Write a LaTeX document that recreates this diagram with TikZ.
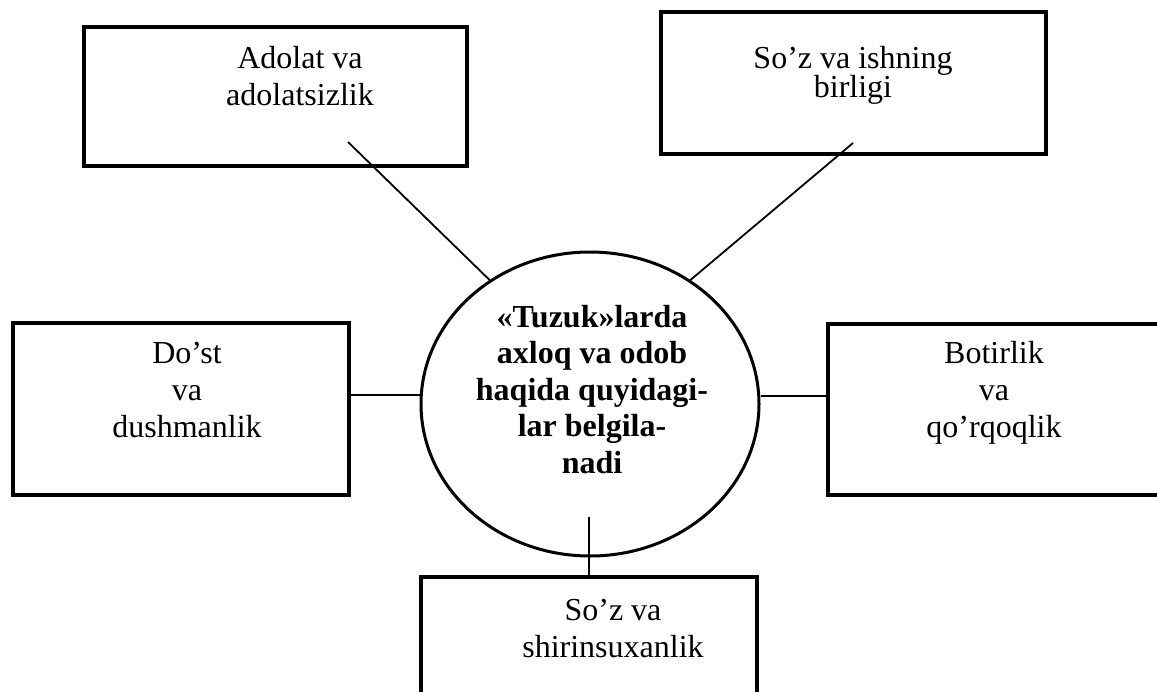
\documentclass[tikz,border=0pt]{standalone}
\usepackage{fontspec}
\setmainfont{Liberation Serif}
\usetikzlibrary{shapes.geometric}
\tikzset{
  box/.style={draw=black, line width=3.5pt, rectangle, inner sep=0pt},
  oval/.style={draw=black, line width=3pt, ellipse, inner sep=0pt, minimum width=338pt, minimum height=304pt},
  conn/.style={draw=black, line width=1.8pt},
  txt/.style={align=center, anchor=base, inner sep=0pt, font=\fontsize{32}{37}\selectfont},
  btxt/.style={align=center, anchor=base, inner sep=0pt, font=\fontsize{32}{36.5}\selectfont\bfseries}
}
\begin{document}
\begin{tikzpicture}[x=1pt,y=-1pt]
\useasboundingbox[fill=white] (0,0) rectangle (1157,691);
% boxes
\node[box, minimum width=383pt, minimum height=139pt] (tl) at (275.5,96.5) {};
\node[box, minimum width=385pt, minimum height=142pt] (tr) at (853.5,83) {};
\node[box, minimum width=336pt, minimum height=172pt] (lb) at (181,409) {};
\node[box, minimum width=332pt, minimum height=171pt] (rb) at (994,409.5) {};
\node[box, minimum width=336pt, minimum height=130pt] (bb) at (589,642) {};
\node[oval] (circ) at (590,404) {};
% texts (anchor = baseline of last line)
\node[txt] (ttl) at (300,105) {Adolat va\\adolatsizlik};
\node[txt] (ttr) at (853,97) {So’z va ishning\\[-8pt]birligi};
\node[txt] (tlb) at (187,437) {Do’st\\va\\dushmanlik};
\node[txt] (trb) at (994,437) {Botirlik\\va\\qo’rqoqlik};
\node[txt] (tbb) at (613,657) {So’z va\\shirinsuxanlik};
\node[btxt] (tc) at (592,473) {«Tuzuk»larda\\axloq va odob\\haqida quyidagi-\\lar belgila-\\nadi};
% connectors
\coordinate (c1) at (348,142);
\coordinate (c2) at (853,143);
\coordinate (l1) at (0,395);
\coordinate (r1) at (0,396);
\coordinate (b1) at (589,517);
\draw[conn] (c1) -- (circ.129.9);
\draw[conn] (c2) -- (circ.51.5);
\draw[conn] (lb.east |- l1) -- (circ.west |- l1);
\draw[conn] (circ.east |- r1) -- (rb.west |- r1);
\draw[conn] (b1) -- (bb.north);
\end{tikzpicture}
\end{document}
